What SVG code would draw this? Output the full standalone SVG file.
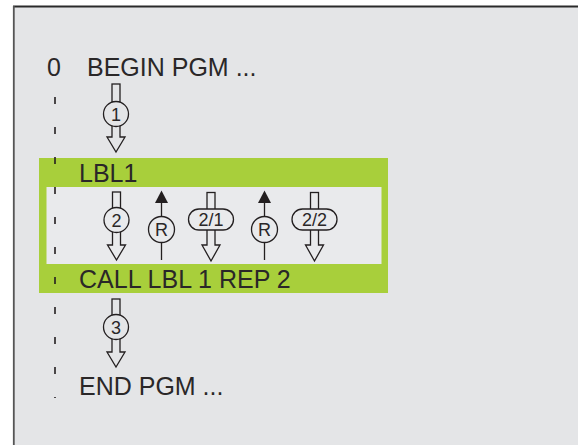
<svg xmlns="http://www.w3.org/2000/svg" width="578" height="445" viewBox="0 0 578 445">
<defs>
<style>
.t{font-family:"Liberation Sans",Arial,sans-serif;font-size:25px;fill:#2a2728}
.n{font-family:"Liberation Sans",Arial,sans-serif;font-size:18px;fill:#2a2728;text-anchor:middle}
.o{fill:none;stroke:#231f20;stroke-width:1.3;stroke-linejoin:miter}
.cb{fill:#e4e5e7;stroke:#231f20;stroke-width:1.3}
.ci{fill:#e9eaec;stroke:#231f20;stroke-width:1.3}
.ln{stroke:#231f20;stroke-width:1.3;fill:none}
.hd{fill:#231f20}
</style>
</defs>
<rect x="0" y="0" width="578" height="445" fill="#ffffff"/>
<rect x="14" y="7" width="564" height="438" fill="#e4e5e7"/>
<line x1="13" y1="6.5" x2="578" y2="6.5" stroke="#2a2a2a" stroke-width="2"/>
<line x1="13.8" y1="6" x2="13.8" y2="445" stroke="#555555" stroke-width="1.8"/>

<g id="block">
<rect x="39" y="158" width="349" height="135" fill="#a8cf3b"/>
<rect x="46.5" y="187" width="335" height="77" fill="#e9eaec"/>
</g>

<g id="connectors">
<line x1="55" y1="97" x2="55" y2="398" stroke="#231f20" stroke-width="1.6" stroke-dasharray="7 23"/>
</g>

<g id="begin">
<text class="t" x="47" y="76">0</text>
<text class="t" x="87" y="76">BEGIN PGM ...</text>
</g>
<g id="lbl1"><text class="t" x="79" y="182">LBL1</text></g>
<g id="call"><text class="t" x="79" y="288">CALL LBL 1 REP 2</text></g>
<g id="end"><text class="t" x="79" y="395">END PGM ...</text></g>

<g id="step1">
<rect class="o" x="112" y="84" width="8" height="18"/>
<path class="o" d="M112,125 V137 H107 L116,152 L125,137 H120 V125"/>
<circle class="cb" cx="116" cy="114" r="12.5"/>
<text class="n" x="116" y="120.5">1</text>
</g>

<g id="step2">
<rect class="o" x="112.5" y="192" width="8" height="18"/>
<path class="o" d="M112.5,232 V245 H107.5 L116.5,260 L125.5,245 H120.5 V232"/>
<circle class="ci" cx="116.5" cy="220" r="12.5"/>
<text class="n" x="116.5" y="226.5">2</text>
</g>

<g id="r1">
<line class="ln" x1="161.5" y1="200" x2="161.5" y2="260"/>
<polygon class="hd" points="161.5,190.5 155,203 168,203"/>
<circle class="ci" cx="161.5" cy="229.5" r="13"/>
<text class="n" x="161.5" y="236">R</text>
</g>

<g id="step21">
<rect class="o" x="207" y="192.5" width="8" height="18"/>
<path class="o" d="M207,229 V245 H202 L211,261 L220,245 H215 V229"/>
<rect class="ci" x="188.5" y="209" width="45" height="21" rx="10.5"/>
<text class="n" x="211" y="226">2/1</text>
</g>

<g id="r2">
<line class="ln" x1="264.5" y1="200" x2="264.5" y2="260"/>
<polygon class="hd" points="264.5,190.5 258,203 271,203"/>
<circle class="ci" cx="264.5" cy="229.5" r="13"/>
<text class="n" x="264.5" y="236">R</text>
</g>

<g id="step22">
<rect class="o" x="310.5" y="192.5" width="8" height="18"/>
<path class="o" d="M310.5,229 V245 H305.5 L314.5,261 L323.5,245 H318.5 V229"/>
<rect class="ci" x="292" y="209" width="45" height="21" rx="10.5"/>
<text class="n" x="314.5" y="226">2/2</text>
</g>

<g id="step3">
<rect class="o" x="112" y="299" width="8" height="18"/>
<path class="o" d="M112,339 V352 H107 L116,367 L125,352 H120 V339"/>
<circle class="cb" cx="116" cy="327" r="12.5"/>
<text class="n" x="116" y="333.5">3</text>
</g>
</svg>
